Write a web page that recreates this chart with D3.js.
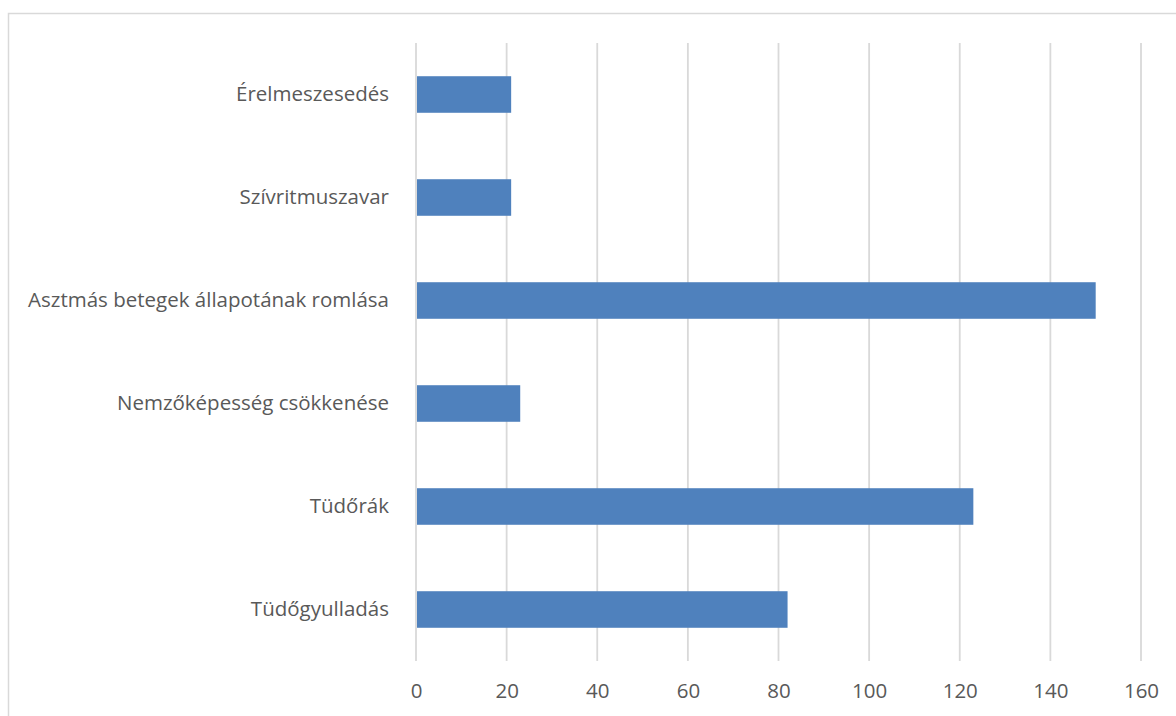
<!DOCTYPE html>
<html>
<head>
<meta charset="utf-8">
<script src="https://cdn.jsdelivr.net/npm/d3@7"></script>
<style>
	body { margin: 0; background: #fff; }
	svg { display: block; }
	text { font-family: "Open Sans", "Liberation Sans", sans-serif; fill: #595959; }
</style>
</head>
<body>
<div id="chart"></div>
<script>
// Categories, top to bottom as drawn
var categories = [
	"Érelmeszesedés",
	"Szívritmuszavar",
	"Asztmás betegek állapotának romlása",
	"Nemzőképesség csökkenése",
	"Tüdőrák",
	"Tüdőgyulladás"
];
var values = [21, 21, 150, 23, 123, 82];
var xTicks = [0, 20, 40, 60, 80, 100, 120, 140, 160];

var width = 1176, height = 716;
var margin = {top: 43, right: 35, bottom: 55, left: 416};

var svg = d3.select("#chart")
	.append("svg")
	.attr("width", width)
	.attr("height", height);

// chart frame (runs off the right and bottom edge)
svg.append("rect")
	.attr("x", 8.5)
	.attr("y", 13.5)
	.attr("width", width)
	.attr("height", height)
	.attr("fill", "none")
	.attr("stroke", "#d9d9d9")
	.attr("stroke-width", 1.5);

var x = d3.scaleLinear()
	.domain([0, 160])
	.range([margin.left, width - margin.right]);

var y = d3.scaleBand()
	.domain(categories)
	.range([margin.top, height - margin.bottom])
	.paddingInner(0.645)
	.paddingOuter(0.3225);

// vertical gridlines
svg.append("g")
	.selectAll("line")
	.data(xTicks)
	.enter()
	.append("line")
	.attr("x1", function(d) { return x(d); })
	.attr("x2", function(d) { return x(d); })
	.attr("y1", margin.top)
	.attr("y2", height - margin.bottom)
	.attr("stroke", "#d9d9d9")
	.attr("stroke-width", 1.8);

// bars
svg.selectAll(".bar")
	.data(categories)
	.enter()
	.append("rect")
	.attr("class", "bar")
	.attr("x", x(0) + 1)
	.attr("y", function(d) { return y(d); })
	.attr("width", function(d, i) { return x(values[i]) - x(0) - 1; })
	.attr("height", y.bandwidth())
	.attr("fill", "#4f81bd");

// x axis labels
var xAxis = svg.append("g")
	.attr("transform", "translate(0," + (height - margin.bottom) + ")")
	.call(d3.axisBottom(x).tickValues(xTicks).tickSize(0).tickPadding(22));
xAxis.select(".domain").remove();
xAxis.selectAll("text")
	.style("font-size", "20.5px")
	.style("font-family", null);

// category labels
var yAxis = svg.append("g")
	.attr("transform", "translate(" + margin.left + ",0)")
	.call(d3.axisLeft(y).tickSize(0).tickPadding(27));
yAxis.select(".domain").remove();
yAxis.selectAll("text")
	.style("font-size", "20.5px")
	.style("font-family", null);
</script>
</body>
</html>
